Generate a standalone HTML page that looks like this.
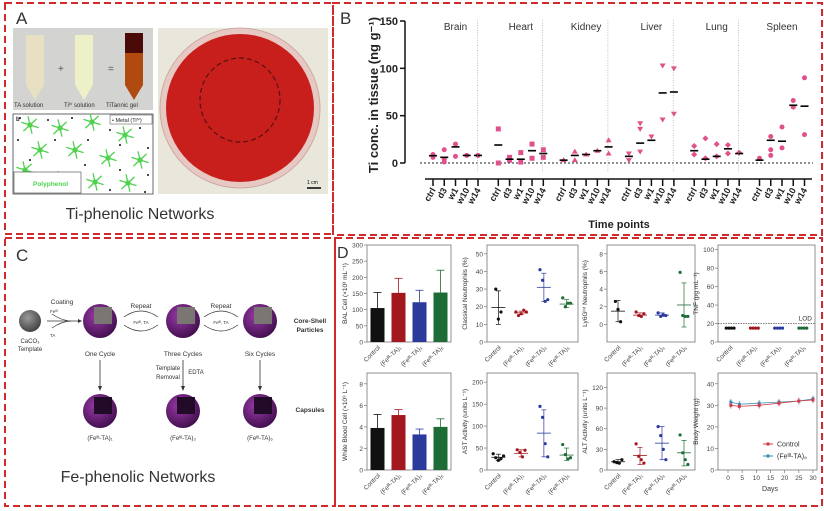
<!DOCTYPE html>
<html><head><meta charset="utf-8"><style>
html,body{margin:0;padding:0;background:#fff}
svg{display:block;font-family:"Liberation Sans",sans-serif}
</style></head><body>
<svg id="fig" width="824" height="511" viewBox="0 0 824 511" xmlns="http://www.w3.org/2000/svg">
<rect x="0" y="0" width="824" height="511" fill="#fff"/>
<!-- panel borders -->
<g fill="none" stroke="#d22a2a" stroke-width="2" stroke-dasharray="7,4">
<rect x="5" y="3" width="328" height="231"/>
<rect x="333" y="3" width="489" height="232"/>
<rect x="5" y="238" width="330" height="268"/>
<rect x="335" y="238" width="487" height="268"/>
</g>
<!-- Panel A -->
<g>
<text x="16" y="24" font-size="17" fill="#333">A</text>
<rect x="13" y="28" width="140" height="82" fill="#d3d3d1"/>
<path d="M26,35 h18 v50 l-9,15 l-9,-15z" fill="#e8e0c2"/>
<path d="M75,35 h18 v50 l-9,15 l-9,-15z" fill="#eef0c8"/>
<path d="M125,33 h18 v52 l-9,15 l-9,-15z" fill="#b04a10"/>
<path d="M125,33 h18 v20 h-18z" fill="#4a0a08"/>
<text x="58" y="72" font-size="10" fill="#555">+</text>
<text x="108" y="72" font-size="10" fill="#555">=</text>
<text x="14" y="107" font-size="6" fill="#333">TA solution</text>
<text x="64" y="107" font-size="6" fill="#333">Tiᴵⱽ solution</text>
<text x="106" y="107" font-size="6" fill="#333">TiTannic gel</text>
<rect x="13" y="114" width="140" height="80" fill="#fff" stroke="#444" stroke-width="0.8"/>
<g id="netg" stroke="#4ed24e" stroke-width="1.3" fill="#4ed24e"></g>
<rect x="14" y="172" width="67" height="21" fill="#fff" stroke="#444" stroke-width="0.6"/>
<text x="33" y="186" font-size="6.5" font-weight="bold" fill="#4ed24e">Polyphenol</text>
<rect x="110" y="115" width="42" height="9" fill="#fff" stroke="#444" stroke-width="0.5"/>
<text x="112" y="122" font-size="5.5" fill="#222">• Metal (Tiᴵⱽ)</text>
<text x="16" y="121" font-size="6" font-weight="bold" fill="#222">b</text>
<rect x="158" y="28" width="170" height="166" fill="#e9e6dc"/>
<circle cx="240" cy="108" r="80" fill="#e6c9c2" stroke="#cfa9a2"/>
<circle cx="240" cy="108" r="74" fill="#c81f1c"/>
<ellipse cx="240" cy="100" rx="40" ry="42" fill="none" stroke="#5a1010" stroke-width="1.2" stroke-dasharray="5,3"/>
<line x1="307" y1="188" x2="321" y2="188" stroke="#000" stroke-width="1.5"/>
<text x="307" y="184" font-size="5" fill="#000">1 cm</text>
<text x="140" y="219" font-size="16" fill="#333" text-anchor="middle">Ti-phenolic Networks</text>
</g>
<!-- Panel C -->
<g fill="#333">
<defs>
<radialGradient id="gg" cx="0.4" cy="0.35" r="0.7"><stop offset="0" stop-color="#9a9a9a"/><stop offset="1" stop-color="#3d3d3d"/></radialGradient>
<radialGradient id="pg" cx="0.4" cy="0.35" r="0.7"><stop offset="0" stop-color="#9a3aa8"/><stop offset="1" stop-color="#3e0d4a"/></radialGradient>
</defs>
<text x="16" y="261" font-size="17">C</text>
<circle cx="30" cy="321" r="11" fill="url(#gg)"/>
<text x="30" y="343" font-size="6" text-anchor="middle">CaCO₃</text>
<text x="30" y="351" font-size="6" text-anchor="middle">Template</text>
<text x="62" y="304" font-size="6.5" text-anchor="middle">Coating</text>
<text x="50" y="313" font-size="4.5">Feᴵᴵᴵ</text><text x="50" y="337" font-size="4.5">TA</text>
<path d="M47,321 H78 M52,314 Q62,321 72,321 M52,328 Q62,321 72,321" stroke="#333" fill="none" stroke-width="0.7"/>
<path d="M78,319 l4,2 l-4,2z"/>
<g id="spheres"></g>
<text x="100" y="356" font-size="6.5" text-anchor="middle">One Cycle</text>
<text x="183" y="356" font-size="6.5" text-anchor="middle">Three Cycles</text>
<text x="260" y="356" font-size="6.5" text-anchor="middle">Six Cycles</text>
<text x="141" y="308" font-size="6.5" text-anchor="middle">Repeat</text>
<text x="221" y="308" font-size="6.5" text-anchor="middle">Repeat</text>
<text x="141" y="324" font-size="4.5" text-anchor="middle">Feᴵᴵᴵ, TA</text>
<text x="221" y="324" font-size="4.5" text-anchor="middle">Feᴵᴵᴵ, TA</text>
<path d="M124,317 Q141,305 158,317 M124,325 Q141,337 158,325 M204,317 Q221,305 238,317 M204,325 Q221,337 238,325" stroke="#333" fill="none" stroke-width="0.7"/>
<text x="310" y="323" font-size="6.5" font-weight="bold" text-anchor="middle">Core-Shell</text>
<text x="310" y="332" font-size="6.5" font-weight="bold" text-anchor="middle">Particles</text>
<text x="310" y="412" font-size="6.5" font-weight="bold" text-anchor="middle">Capsules</text>
<text x="168" y="370" font-size="6" text-anchor="middle">Template</text>
<text x="168" y="379" font-size="6" text-anchor="middle">Removal</text>
<text x="196" y="374" font-size="6" text-anchor="middle">EDTA</text>
<path d="M100,360 V387 M183,360 V387 M260,360 V387" stroke="#333" stroke-width="0.8"/>
<path d="M98,386 l2,5 l2,-5z M181,386 l2,5 l2,-5z M258,386 l2,5 l2,-5z"/>
<text x="100" y="440" font-size="6" text-anchor="middle">(Feᴵᴵᴵ-TA)₁</text>
<text x="183" y="440" font-size="6" text-anchor="middle">(Feᴵᴵᴵ-TA)₃</text>
<text x="260" y="440" font-size="6" text-anchor="middle">(Feᴵᴵᴵ-TA)₆</text>
<text x="138" y="482" font-size="16" text-anchor="middle">Fe-phenolic Networks</text>
</g>
<g id="panelB"></g>
<g id="panelD"></g>
<text x="337" y="258" font-size="16" fill="#333">D</text>
<text x="340" y="24" font-size="17" fill="#333">B</text>
</svg>
<script>
// ---------- Panel B data ----------
const bGroups=['Brain','Heart','Kidney','Liver','Lung','Spleen'];
const bTimes=['ctrl','d3','w1','w10','w14'];
const bPoints=[
 [[6,9],[14,4,1],[20,7],[8],[8]],
 [[36,0],[3,6],[11,1],[20,5],[14,6]],
 [[3],[12,3],[9],[13],[24,10]],
 [[10,3],[42,36,12],[28],[103,46],[100,52]],
 [[18,9],[26,5],[20,7],[19,10],[11]],
 [[5],[28,14,8],[38,16],[66,59],[90,30]]
];
const bMeans=[[7.7,6,17,8,8],[19,4,4,13,10],[3,8,9,13,17],[7,21,24,74,75],[13,4,7,15,10],[3,24,23,61,60]];
const bTicks=[0,50,100,150];
// ---------- Panel D data ----------
const dCats=['Control','(Feᴵᴵᴵ-TA)₁','(Feᴵᴵᴵ-TA)₃','(Feᴵᴵᴵ-TA)₆'];
const balMeans=[105,152,123,153];
const balErr=[153,197,160,222];
const wbcMeans=[3.9,5.1,3.3,4.0];
const wbcErr=[5.15,5.6,3.8,4.75];
const neutPts=[[30,13,17],[17,15,16,18,17],[41,35,23,24],[25,20,22,22]];
const neutMean=[19.5,16.5,31,21.5];
const neutSd=[[10,29],[15.5,17.5],[23,39],[19.5,24]];
const lyPts=[[2.6,1.7,0.3],[1.4,1.0,0.9,1.2],[1.3,0.9,1.1,1.0],[5.9,1.0,0.9,0.9]];
const lyMean=[1.5,1.05,1.05,2.2];
const lySd=[[0.3,2.7],[0.9,1.3],[0.9,1.3],[-0.3,4.7]];
const tnfPts=[[15,15,15,15],[15,15,15,15],[15,15,15,15],[15,15,15,15]];
const astPts=[[37,28,22,26,32],[46,40,30,45],[145,120,60,30],[58,35,25,28]];
const astMean=[29,38,84,34];
const astSd=[[22,36],[30,46],[30,137],[22,50]];
const altPts=[[12,11,10,15],[38,20,15,10],[63,50,30,15],[51,25,15,8]];
const altMean=[12,21,39,25];
const altSd=[[9,15],[8,33],[15,63],[6,43]];
const bwDays=[1,4,11,18,25,30];
const bwControl=[30,29.5,30,31,32,32.5];
const bwFe=[31.5,30.5,31,31.5,32,33];
const dColors=['#111','#a3171f','#2b3a9c','#1d6b35'];

const NS='http://www.w3.org/2000/svg';
function mk(tag,attrs,parent){const e=document.createElementNS(NS,tag);for(const k in attrs)e.setAttribute(k,attrs[k]);parent.appendChild(e);return e;}

// network schematic
(function(){const g=document.getElementById('netg');
 const hubs=[[30,125],[60,128],[92,122],[125,135],[40,150],[75,150],[108,158],[140,160],[25,170],[60,180],[95,182],[128,183]];
 hubs.forEach(h=>{for(let k=0;k<6;k++){const a=k*Math.PI/3+0.3;mk('line',{x1:h[0],y1:h[1],x2:h[0]+9*Math.cos(a),y2:h[1]+9*Math.sin(a)},g);}
  mk('circle',{cx:h[0],cy:h[1],r:2},g);});
 const dots=[[20,118],[48,120],[72,118],[110,130],[140,128],[18,140],[55,140],[88,140],[120,145],[148,148],[30,160],[85,165],[120,170],[45,188],[78,190],[110,190],[145,192],[148,175]];
 dots.forEach(d=>mk('circle',{cx:d[0],cy:d[1],r:1,fill:'#111',stroke:'none'},g));})();
// spheres
(function(){const g=document.getElementById('spheres');
 [[100,321,'#7a7a72'],[183,321,'#7a7a72'],[260,321,'#7a7a72'],[100,411,'#1e0824'],[183,411,'#1e0824'],[260,411,'#1e0824']].forEach((s,i)=>{
  const c=mk('circle',{cx:s[0],cy:s[1],r:17,fill:'url(#pg)'},g);
  
  
  mk('path',{d:`M${s[0]-6},${s[1]-14} h18 v17 h-18z`,fill:s[2],opacity:0.95},g);});})();

// ---------- Panel B ----------
(function(){const g=document.getElementById('panelB');
 const yB=v=>163-v*142/150;
 const xB=(gi,ti)=>433+gi*65.3+ti*11.25;
 const ax=mk('line',{x1:405,y1:yB(150),x2:405,y2:yB(0),stroke:'#111','stroke-width':1.5},g);
 
 
 bTicks.forEach(t=>{mk('line',{x1:400,y1:yB(t),x2:405,y2:yB(t),stroke:'#111','stroke-width':1.5},g);
  const tx=mk('text',{x:398,y:yB(t)+4,'font-size':11,'font-weight':'bold','text-anchor':'end',fill:'#222'},g);tx.textContent=t;
  
  });
 const yt=mk('text',{x:0,y:0,'font-size':13,'font-weight':'bold','text-anchor':'middle',fill:'#222',transform:'translate(378,95) rotate(-90)'},g);
 yt.textContent='Ti conc. in tissue (ng g⁻¹)';
 
 
 mk('line',{x1:420,y1:yB(0),x2:813,y2:yB(0),stroke:'#222','stroke-width':1,'stroke-dasharray':'2,2'},g);
 const xa=mk('line',{x1:425,y1:179,x2:812,y2:179,stroke:'#111','stroke-width':1.5},g);
 
 
 const xt=mk('text',{x:619,y:228,'font-size':11,'font-weight':'bold','text-anchor':'middle',fill:'#222'},g);xt.textContent='Time points';
 
 
 bGroups.forEach((name,gi)=>{
  const lab=mk('text',{x:(xB(gi,0)+xB(gi,4))/2,y:30,'font-size':10,'text-anchor':'middle',fill:'#333'},g);lab.textContent=name;
  
  
  if(gi>0){mk('line',{x1:xB(gi,0)-21,y1:20,x2:xB(gi,0)-21,y2:172,stroke:'#999','stroke-width':0.6,'stroke-dasharray':'1,1.5'},g);}
  bTimes.forEach((tn,ti)=>{const x=xB(gi,ti);
   mk('line',{x1:x,y1:179,x2:x,y2:186,stroke:'#111','stroke-width':1.5},g);
   const tl=mk('text',{x:0,y:0,'font-size':9,'font-weight':'bold','text-anchor':'end',fill:'#222',transform:`translate(${x+3},${190}) rotate(-60)`},g);tl.textContent=tn;
   
   
   bPoints[gi][ti].forEach(v=>{const y=yB(v);let m;
    if(gi===1)m=mk('rect',{x:x-2.5,y:y-2.5,width:5,height:5,fill:'#e0508a'},g);
    else if(gi===2)m=mk('path',{d:`M${x},${y-3} L${x+3},${y+2} L${x-3},${y+2}z`,fill:'#e0508a'},g);
    else if(gi===3)m=mk('path',{d:`M${x},${y+3} L${x+3},${y-2} L${x-3},${y-2}z`,fill:'#e0508a'},g);
    else if(gi===4)m=mk('path',{d:`M${x},${y-3} L${x+3},${y} L${x},${y+3} L${x-3},${y}z`,fill:'#e0508a'},g);
    else m=mk('circle',{cx:x,cy:y,r:2.5,fill:'#e0508a'},g);
    
    });
   const mm=mk('line',{x1:x-4,y1:yB(bMeans[gi][ti]),x2:x+4,y2:yB(bMeans[gi][ti]),stroke:'#000','stroke-width':1.6},g);
   
   });});})();

// ---------- Panel D ----------
const D=document.getElementById('panelD');
function frame(x0,x1,y0,y1,ymin,ymax,ticks,title,name){
 const g=mk('g',{},D);
 
 
 mk('rect',{x:x0,y:y0,width:x1-x0,height:y1-y0,fill:'none',stroke:'#777','stroke-width':0.8},g);
 const y=v=>y1-(v-ymin)/(ymax-ymin)*(y1-y0);
 ticks.forEach(t=>{mk('line',{x1:x0-3,y1:y(t),x2:x0,y2:y(t),stroke:'#777','stroke-width':0.7},g);
  const tx=mk('text',{x:x0-4,y:y(t)+2.5,'font-size':6.5,'text-anchor':'end',fill:'#444'},g);tx.textContent=t;
  
  });
 const tt=mk('text',{x:0,y:0,'font-size':6.5,'text-anchor':'middle',fill:'#333',transform:`translate(${x0-20},${(y0+y1)/2}) rotate(-90)`},g);tt.textContent=title;
 
 
 return {g,y};}
function catX(x0,x1,i){return x0+(x1-x0)*(i+0.5)/4;}
function catLabels(g,x0,x1,y1){dCats.forEach((c,i)=>{const t=mk('text',{x:0,y:0,'font-size':6.3,'text-anchor':'end',fill:'#444',transform:`translate(${catX(x0,x1,i)+3},${y1+6}) rotate(-45)`},g);t.textContent=c;
 
 });}
function barChart(x0,x1,y0,y1,ymax,ticks,title,means,errs,name){
 const f=frame(x0,x1,y0,y1,0,ymax,ticks,title,name);
 means.forEach((v,i)=>{const cx=catX(x0,x1,i);
  mk('line',{x1:cx,y1:f.y(errs[i]),x2:cx,y2:f.y(v),stroke:dColors[i],'stroke-width':0.8},f.g);
  mk('line',{x1:cx-4,y1:f.y(errs[i]),x2:cx+4,y2:f.y(errs[i]),stroke:dColors[i],'stroke-width':0.8},f.g);
  const b=mk('rect',{x:cx-7,y:f.y(v),width:14,height:f.y(0)-f.y(v),fill:dColors[i]},f.g);
  
  });
 catLabels(f.g,x0,x1,y1);}
function dotChart(x0,x1,y0,y1,ymin,ymax,ticks,title,pts,means,sds,name){
 const f=frame(x0,x1,y0,y1,ymin,ymax,ticks,title,name);
 pts.forEach((arr,i)=>{const cx=catX(x0,x1,i);
  if(sds){mk('line',{x1:cx,y1:f.y(sds[i][0]),x2:cx,y2:f.y(sds[i][1]),stroke:dColors[i],'stroke-width':0.7},f.g);
   [0,1].forEach(k=>mk('line',{x1:cx-2.5,y1:f.y(sds[i][k]),x2:cx+2.5,y2:f.y(sds[i][k]),stroke:dColors[i],'stroke-width':0.7},f.g));}
  if(means){const m=mk('line',{x1:cx-7,y1:f.y(means[i]),x2:cx+7,y2:f.y(means[i]),stroke:dColors[i],'stroke-width':0.8},f.g);
   
   }
  arr.forEach((v,j)=>{const dx=(j-(arr.length-1)/2)*2.6;
   const p=mk('circle',{cx:cx+dx,cy:f.y(v),r:1.6,fill:dColors[i]},f.g);
   
   });});
 catLabels(f.g,x0,x1,y1);return f;}
const R1=[245,342],R2=[373,470];
const C1=[367,451],C2=[487,578],C3=[607,695],C4=[718,815];
barChart(C1[0],C1[1],R1[0],R1[1],300,[0,50,100,150,200,250,300],'BAL Cell (×10³ mL⁻¹)',balMeans,balErr,'bal-cell-chart');
dotChart(C2[0],C2[1],R1[0],R1[1],0,55,[0,10,20,30,40,50],'Classical Neutrophils (%)',neutPts,neutMean,neutSd,'classical-neutrophils-chart');
dotChart(C3[0],C3[1],R1[0],R1[1],-2,9,[0,2,4,6,8],'Ly6Gᴵⁿᵗ Neutrophils (%)',lyPts,lyMean,lySd,'ly6g-neutrophils-chart');
const tf=dotChart(C4[0],C4[1],R1[0],R1[1],0,105,[0,20,40,60,80,100],'TNF (pg mL⁻¹)',tnfPts,null,null,'tnf-chart');
mk('line',{x1:C4[0],y1:tf.y(20),x2:C4[1],y2:tf.y(20),stroke:'#555','stroke-width':0.7,'stroke-dasharray':'1.5,1'},tf.g);
const lod=mk('text',{x:C4[1]-3,y:tf.y(20)-3,'font-size':6.5,'text-anchor':'end',fill:'#333'},tf.g);lod.textContent='LOD';


barChart(C1[0],C1[1],R2[0],R2[1],9,[0,2,4,6,8],'White Blood Cell (×10⁹ L⁻¹)',wbcMeans,wbcErr,'wbc-chart');
dotChart(C2[0],C2[1],R2[0],R2[1],0,221,[0,50,100,150,200],'AST Activity (units L⁻¹)',astPts,astMean,astSd,'ast-chart');
dotChart(C3[0],C3[1],R2[0],R2[1],0,141,[0,30,60,90,120],'ALT Activity (units L⁻¹)',altPts,altMean,altSd,'alt-chart');
(function(){const x0=718,x1=817,f=frame(x0,x1,R2[0],R2[1],0,45,[0,10,20,30,40],'Body Weight (g)','body-weight-chart');
 const xd=d=>728+d*(813-728)/30;
 [0,5,10,15,20,25,30].forEach(t=>{mk('line',{x1:xd(t),y1:R2[1],x2:xd(t),y2:R2[1]+3,stroke:'#777','stroke-width':0.7},f.g);
  const tx=mk('text',{x:xd(t),y:R2[1]+10,'font-size':6.5,'text-anchor':'middle',fill:'#444'},f.g);tx.textContent=t;
  
  });
 const dl=mk('text',{x:770,y:491,'font-size':7,'text-anchor':'middle',fill:'#333'},f.g);dl.textContent='Days';
 
 
 [[bwFe,'#3a8fb0'],[bwControl,'#d03a4a']].forEach(([s,c])=>{
  const ln=mk('polyline',{points:bwDays.map((d,i)=>xd(d)+','+f.y(s[i])).join(' '),fill:'none',stroke:c,'stroke-width':0.8},f.g);
  
  
  bwDays.forEach((d,i)=>{mk('line',{x1:xd(d),y1:f.y(s[i]-1.5),x2:xd(d),y2:f.y(s[i]+1.5),stroke:c,'stroke-width':0.7},f.g);
   const p=mk('rect',{x:xd(d)-1.5,y:f.y(s[i])-1.5,width:3,height:3,fill:c},f.g);
   
   });});
 [['Control','#d03a4a',444],['(Feᴵᴵᴵ-TA)₆','#3a8fb0',456]].forEach(([t,c,y])=>{
  mk('line',{x1:763,y1:y,x2:773,y2:y,stroke:c,'stroke-width':1},f.g);
  mk('rect',{x:766.5,y:y-1.5,width:3,height:3,fill:c},f.g);
  const lt=mk('text',{x:777,y:y+2.5,'font-size':7,fill:'#333'},f.g);lt.textContent=t;
  
  });})();
</script>
</body></html>
